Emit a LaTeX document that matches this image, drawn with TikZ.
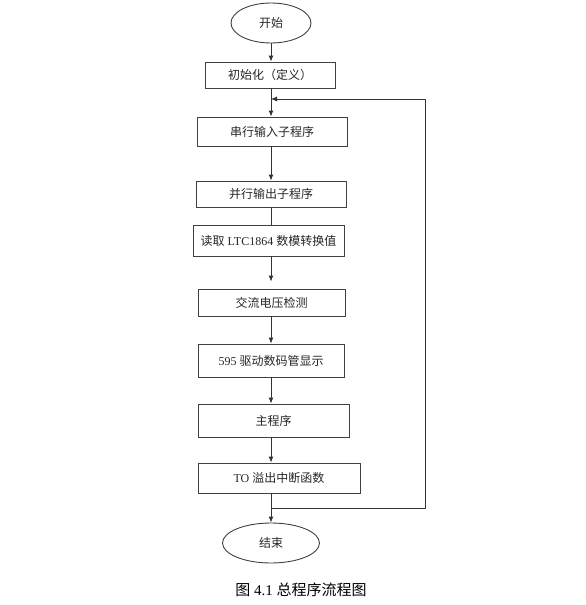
\documentclass[tikz,border=0pt]{standalone}
\usepackage{fontspec}
\setmainfont{Liberation Serif}
\newfontfamily\cjk{Noto Sans CJK SC}
\usetikzlibrary{shapes.geometric,arrows.meta}
\begin{document}
\begin{tikzpicture}[x=1pt,y=-1pt,>={Latex[length=6pt,width=5pt]}]
	\tikzstyle{stepbox}=[rectangle,draw=black!75,line width=0.9pt,text=black!85,inner sep=0pt,font=\fontsize{12}{14}\selectfont]
	\tikzstyle{terminal}=[ellipse,draw=black!75,line width=0.9pt,text=black!85,inner sep=0pt,font=\fontsize{12}{14}\selectfont]
	\tikzstyle{flow}=[draw=black!80,line width=0.9pt]
	\useasboundingbox (0,0) rectangle (586,605);
	\node[terminal,minimum width=80pt,minimum height=40pt](start) at (271,23) {\cjk 开始};
	\node[stepbox,minimum width=130pt,minimum height=26pt](init) at (270,75) {\cjk 初始化（定义）};
	\node[stepbox,minimum width=150pt,minimum height=29pt](serial) at (272,131.5) {\cjk 串行输入子程序};
	\node[stepbox,minimum width=150pt,minimum height=26pt](parallel) at (271,194) {\cjk 并行输出子程序};
	\node[stepbox,minimum width=151pt,minimum height=31pt](adc) at (268.5,240.5) {{\cjk 读取} LTC1864 {\cjk 数模转换值}};
	\node[stepbox,minimum width=147pt,minimum height=27pt](acv) at (271.5,302.5) {\cjk 交流电压检测};
	\node[stepbox,minimum width=146pt,minimum height=33pt](disp) at (271,360.5) {595 {\cjk 驱动数码管显示}};
	\node[stepbox,minimum width=151pt,minimum height=33pt](mainprog) at (273.5,420.5) {\cjk 主程序};
	\node[stepbox,minimum width=162pt,minimum height=30pt](timer) at (279,478) {TO {\cjk 溢出中断函数}};
	\node[terminal,minimum width=97pt,minimum height=40pt](stop) at (271,543) {\cjk 结束};
	\node[font=\fontsize{15}{18}\selectfont,text=black](caption) at (301,590) {{\cjk 图} 4.1 {\cjk 总程序流程图}};
	\coordinate (join) at (271,99);
	\coordinate (merge) at (271,508);
	\coordinate (back) at (425,508);
	\draw[flow,->](start) -- (init.north -| start);
	\draw[flow,->](init.south -| start) -- (serial.north -| start);
	\draw[flow,->](serial.south -| start) -- (parallel.north -| start);
	\draw[flow](parallel.south -| start) -- (adc.north -| start);
	\draw[flow,->](adc.south -| start) -- ([yshift=7pt]acv.north -| start);
	\draw[flow,->](acv.south -| start) -- (disp.north -| start);
	\draw[flow,->](disp.south -| start) -- (mainprog.north -| start);
	\draw[flow,->](mainprog.south -| start) -- (timer.north -| start);
	\draw[flow,->](timer.south -| start) -- (stop);
	\draw[flow,->](merge) -- (back) |- (join);
\end{tikzpicture}
\end{document}
